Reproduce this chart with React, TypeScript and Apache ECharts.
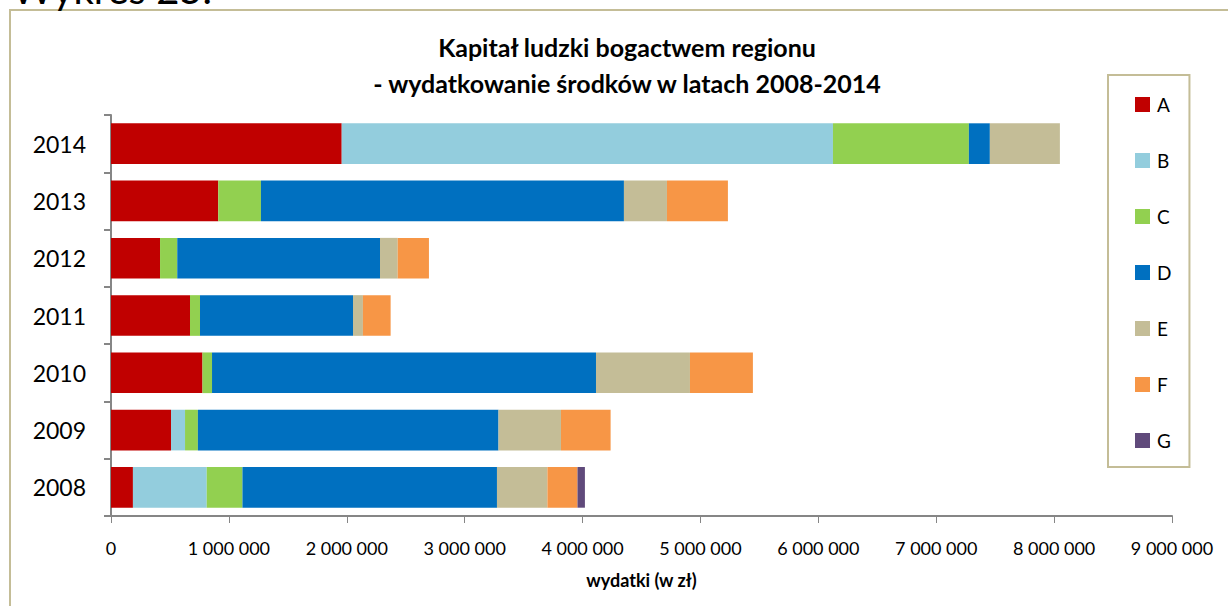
import React, { useEffect, useRef } from "react";
import * as echarts from "echarts";

const years = ["2008", "2009", "2010", "2011", "2012", "2013", "2014"];
const seriesNames = ["A", "B", "C", "D", "E", "F", "G"];
const colors = ["#C00000", "#93CDDD", "#92D050", "#0070C0", "#C4BD97", "#F79646", "#604A7B"];

const valuesA = [186000, 509000, 776000, 670000, 416000, 910000, 1957000];
const valuesB = [626000, 119000, 0, 0, 0, 0, 4167000];
const valuesC = [303000, 109000, 81000, 85000, 146000, 362000, 1153000];
const valuesD = [2159000, 2550000, 3257000, 1298000, 1720000, 3079000, 178000];
const valuesE = [428000, 530000, 797000, 84000, 150000, 365000, 594000];
const valuesF = [255000, 421000, 534000, 235000, 265000, 517000, 0];
const valuesG = [63000, 0, 0, 0, 0, 0, 0];

const allValues = [valuesA, valuesB, valuesC, valuesD, valuesE, valuesF, valuesG];

const titleText = "Kapitał ludzki bogactwem regionu\n- wydatkowanie środków w latach 2008-2014";
const axisName = "wydatki (w zł)";
const captionText = "Wykres 25.";

const FONT = "Lato, 'Open Sans', sans-serif";

function fmt(v: number): string {
  return String(v).replace(/\B(?=(\d{3})+(?!\d))/g, " ");
}

export default function App() {
  const ref = useRef<HTMLDivElement>(null);
  useEffect(() => {
    document.body.style.margin = "0";
    if (!ref.current) return;
    const chart = echarts.init(ref.current, undefined, { renderer: "svg" });
    chart.setOption({
      animation: false,
      backgroundColor: "#ffffff",
      textStyle: { fontFamily: FONT },
      title: {
        text: titleText,
        left: 622,
        top: 24,
        textAlign: "center",
        textStyle: {
          fontFamily: FONT,
          fontSize: 25,
          fontWeight: "bold",
          color: "#000",
          lineHeight: 36,
        },
      },
      graphic: [
        {
          type: "rect",
          shape: { x: 10, y: 10, width: 1240, height: 620 },
          style: { fill: "none", stroke: "#C4BD97", lineWidth: 2 },
          silent: true,
        },
        {
          type: "text",
          x: 12,
          y: 9,
          style: {
            text: captionText,
            fontFamily: FONT,
            fontSize: 40,
            fill: "#000",
            textVerticalAlign: "bottom",
          },
          silent: true,
        },
      ],
      legend: {
        orient: "vertical",
        left: 1108,
        top: 75,
        width: 83,
        padding: [20, 18, 17, 27],
        borderColor: "#C4BD97",
        borderWidth: 2,
        itemWidth: 15,
        itemHeight: 15,
        itemGap: 37,
        icon: "rect",
        data: seriesNames,
        textStyle: { fontFamily: FONT, fontSize: 19, color: "#000", lineHeight: 19, padding: [0, 0, 0, 2] },
      },
      grid: { left: 111, right: 56, top: 115, bottom: 90, containLabel: false },
      xAxis: {
        type: "value",
        min: 0,
        max: 9000000,
        interval: 1000000,
        name: axisName,
        nameLocation: "middle",
        nameGap: 55,
        nameTextStyle: { fontFamily: FONT, fontSize: 18, fontWeight: "bold", color: "#000" },
        axisLine: { show: true, lineStyle: { color: "#868686", width: 2 } },
        axisTick: { show: true, length: 7, lineStyle: { color: "#868686", width: 1 } },
        splitLine: { show: false },
        axisLabel: {
          margin: 23,
          fontSize: 18,
          color: "#000",
          fontFamily: FONT,
          formatter: (v: number) => fmt(v),
        },
      },
      yAxis: {
        type: "category",
        data: years,
        axisLine: { show: true, lineStyle: { color: "#868686", width: 2 } },
        axisTick: { show: true, length: 7, lineStyle: { color: "#868686", width: 2 } },
        axisLabel: { margin: 25, fontSize: 23, color: "#000", fontFamily: FONT },
      },
      series: seriesNames.map((name, i) => ({
        name,
        type: "bar",
        stack: "total",
        barCategoryGap: "29%",
        itemStyle: { color: colors[i] },
        data: allValues[i],
      })),
    });
    return () => chart.dispose();
  }, []);
  return <div ref={ref} style={{ width: 1228, height: 606 }} />;
}
